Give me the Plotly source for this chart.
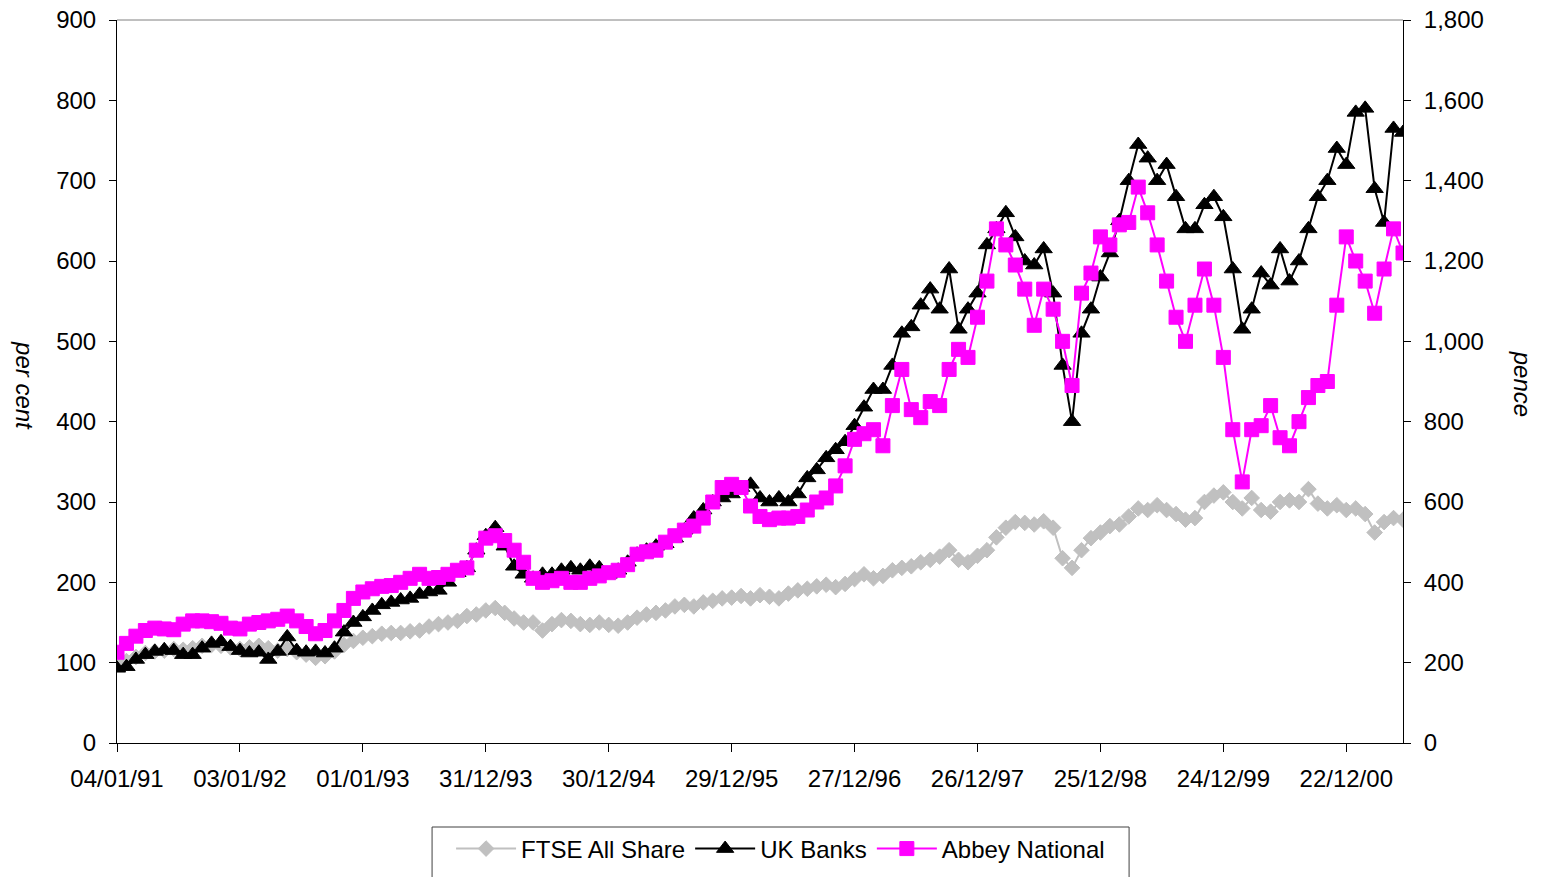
import plotly.graph_objects as go
import pandas as pd

# Weekly-sampled (every 4 weeks) observations, starting Friday 04/01/91
dates = pd.date_range("1991-01-04", periods=137, freq="28D")

# FTSE All Share, per cent (left axis)
ftse = [100, 102, 107, 112, 114, 115, 117, 116, 118, 121, 122, 121, 119, 117,
        119, 121, 118, 115, 117, 113, 110, 106, 108, 114, 122, 127, 131,
        133, 136, 137, 137, 139, 140, 145, 148, 150, 152, 158, 160, 165,
        168, 162, 155, 150, 150, 140, 148, 153, 152, 148, 147, 150, 147,
        146, 150, 156, 160, 162, 165, 170, 172, 170, 175, 177, 180, 181,
        183, 180, 184, 182, 180, 186, 190, 192, 195, 197, 194, 198, 204,
        210, 205, 208, 215, 218, 220, 225, 228, 232, 240, 228, 225, 233,
        240, 256, 268, 275, 274, 272, 276, 268, 230, 218, 240, 255, 262,
        270, 272, 282, 292, 290, 296, 290, 285, 278, 280, 300, 308, 312,
        300, 292, 305, 290, 288, 300, 302, 300, 316, 298, 292, 296, 290,
        292, 285, 262, 275, 280, 278]

# UK Banks, per cent (left axis)
banks = [93, 95, 104, 110, 114, 116, 115, 110, 110, 118, 124, 126, 120, 115,
         112, 113, 104, 114, 132, 115, 113, 114, 112, 118, 138, 150, 157,
         165, 172, 175, 178, 180, 185, 188, 190, 200, 212, 218, 240, 258,
         268, 245, 220, 210, 205, 210, 210, 215, 218, 215, 220, 218, 210,
         215, 225, 235, 240, 245, 248, 255, 265, 280, 290, 300, 305, 310,
         318, 322, 305, 300, 305, 300, 310, 330, 340, 355, 365, 375, 395,
         418, 440, 440, 470, 510, 518, 545, 565, 540, 590, 515, 540, 560,
         620, 640, 660, 630, 600, 595, 615, 560, 470, 400, 510, 540, 580,
         610, 650, 700, 745, 728, 700, 720, 680, 640, 640, 670, 680, 655,
         590, 515, 540, 585, 570, 615, 575, 600, 640, 680, 700, 740, 720,
         785, 790, 690, 648, 765, 760]

# Abbey National share price, pence (right axis)
abbey = [226, 248, 266, 280, 286, 284, 282, 296, 304, 304, 302, 298, 286, 284,
         296, 300, 304, 308, 316, 304, 290, 272, 280, 304, 330, 360, 376,
         384, 390, 392, 400, 410, 420, 410, 412, 420, 430, 436, 480, 510,
         516, 504, 480, 450, 410, 400, 404, 410, 400, 400, 410, 416, 424,
         430, 444, 470, 476, 480, 500, 516, 530, 540, 560, 600, 636, 644,
         636, 590, 564, 556, 560, 560, 564, 580, 600, 610, 640, 690, 756,
         770, 780, 740, 840, 930, 830, 810, 850, 840, 930, 980, 960, 1060,
         1150, 1280, 1240, 1190, 1130, 1040, 1130, 1080, 1000, 890, 1120, 1170, 1260,
         1240, 1290, 1296, 1384, 1320, 1240, 1150, 1060, 1000, 1090, 1180, 1090, 960,
         780, 650, 780, 790, 840, 760, 740, 800, 860, 890, 900, 1090, 1260,
         1200, 1150, 1070, 1180, 1280, 1220]

tick_dates = ["1991-01-04", "1992-01-03", "1993-01-01", "1993-12-31",
              "1994-12-30", "1995-12-29", "1996-12-27", "1997-12-26",
              "1998-12-25", "1999-12-24", "2000-12-22"]
tick_labels = ["04/01/91", "03/01/92", "01/01/93", "31/12/93", "30/12/94",
               "29/12/95", "27/12/96", "26/12/97", "25/12/98", "24/12/99",
               "22/12/00"]

FONT = "Liberation Sans, Arial, sans-serif"

fig = go.Figure()
fig.add_trace(go.Scatter(
    x=dates, y=ftse, name="FTSE All Share", mode="lines+markers",
    line=dict(color="#C0C0C0", width=2),
    marker=dict(symbol="diamond", size=12, color="#C0C0C0",
                line=dict(color="#C0C0C0", width=1))))
fig.add_trace(go.Scatter(
    x=dates, y=banks, name="UK Banks", mode="lines+markers",
    line=dict(color="#000000", width=2),
    marker=dict(symbol="triangle-up", size=15, color="#000000",
                line=dict(color="#000000", width=1))))
fig.add_trace(go.Scatter(
    x=dates, y=abbey, name="Abbey National", mode="lines+markers",
    yaxis="y2",
    line=dict(color="#FF00FF", width=2),
    marker=dict(symbol="square", size=14, color="#FF00FF",
                line=dict(color="#FF00FF", width=1))))

xr = [dates[0], dates[-1]]
common_x = dict(type="date", range=xr, tickmode="array", tickvals=tick_dates,
                showgrid=False, zeroline=False)

fig.update_layout(
    width=1541, height=877,
    margin=dict(l=117, r=138, t=20, b=134, autoexpand=False),
    paper_bgcolor="white", plot_bgcolor="white",
    font=dict(family=FONT, size=24, color="black"),
    xaxis=dict(**common_x, ticktext=tick_labels, ticks="outside", ticklen=8,
               tickcolor="black", tickwidth=1, showline=True, linecolor="black",
               linewidth=1, tickfont=dict(size=24), ticklabelstandoff=6),
    xaxis2=dict(**common_x, overlaying="x", anchor="y", side="bottom",
                ticks="inside", ticklen=4, tickcolor="black", tickwidth=1,
                showticklabels=False, showline=False),
    yaxis=dict(range=[0, 900], dtick=100, tick0=0, ticks="outside", ticklen=7,
               tickcolor="black", showline=True, linecolor="black", linewidth=1,
               showgrid=False, zeroline=False, tickfont=dict(size=24),
               ticklabelstandoff=8),
    yaxis3=dict(range=[0, 900], dtick=100, tick0=0, overlaying="y", side="left",
                anchor="x", ticks="inside", ticklen=7, tickcolor="black",
                showticklabels=False, showline=False, showgrid=False,
                zeroline=False),
    yaxis2=dict(range=[0, 1800], dtick=200, tick0=0, overlaying="y", side="right",
                anchor="x", ticks="outside", ticklen=7, tickcolor="black",
                showline=True, linecolor="black", linewidth=1, showgrid=False,
                zeroline=False, tickformat=",", tickfont=dict(size=24),
                ticklabelstandoff=8),
    yaxis4=dict(range=[0, 1800], dtick=200, tick0=0, overlaying="y", side="right",
                anchor="x", ticks="inside", ticklen=7, tickcolor="black",
                showticklabels=False, showline=False, showgrid=False,
                zeroline=False),
    showlegend=True,
    legend=dict(orientation="h", x=0.516, xanchor="center", y=-0.1466,
                yanchor="middle", font=dict(size=24), bgcolor="rgba(0,0,0,0)",
                borderwidth=0, itemwidth=60, traceorder="normal"),
    shapes=[
        dict(type="line", xref="paper", yref="paper", x0=0, x1=1, y0=1, y1=1,
             line=dict(color="#808080", width=1)),
        dict(type="rect", xref="paper", yref="paper", x0=0.245, x1=0.787,
             y0=-0.1162, y1=-0.19, line=dict(color="#404040", width=1)),
    ],
    annotations=[
        dict(text="<i>per cent</i>", xref="paper", yref="paper", x=-0.0715,
             y=0.495, showarrow=False, textangle=90, font=dict(size=24),
             xanchor="center", yanchor="middle"),
        dict(text="<i>pence</i>", xref="paper", yref="paper", x=1.0925,
             y=0.497, showarrow=False, textangle=90, font=dict(size=24),
             xanchor="center", yanchor="middle"),
    ],
)

fig.write_html("out.html")
